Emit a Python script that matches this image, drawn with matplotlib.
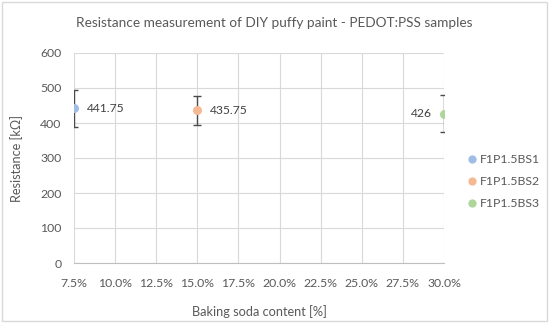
import matplotlib
matplotlib.use("Agg")
import matplotlib.pyplot as plt
from matplotlib.patches import Rectangle

series = ["F1P1.5BS1", "F1P1.5BS2", "F1P1.5BS3"]
soda = [7.5, 15.0, 30.0]
resistance = [441.75, 435.75, 426]
errors = [52, 41, 53]
labels = ["441.75", "435.75", "426"]
colors = ["#9FBDE6", "#F5B994", "#AED69A"]
xticks = [7.5, 10.0, 12.5, 15.0, 17.5, 20.0, 22.5, 25.0, 27.5, 30.0]
yticks = [0, 100, 200, 300, 400, 500, 600]

plt.rcParams['font.family'] = ['Lato', 'DejaVu Sans']
txt = "#595959"

fig = plt.figure(figsize=(5.5, 3.23), dpi=100)
ax = fig.add_axes([74/550, 1 - 263/323, (444-74)/550, (263-53)/323])

for i, (x, y, e, lab, c, s) in enumerate(zip(soda, resistance, errors, labels, colors, series)):
    ax.errorbar([x], [y], yerr=[e], fmt='none', ecolor="#4a4a4a", elinewidth=1.0,
                capsize=3, capthick=1.0, zorder=3)
    ax.plot([x], [y], 'o', color=c, markersize=5.5, zorder=4, label=s)
    if i < 2:
        ax.annotate(lab, (x, y), xytext=(9, 0), textcoords='offset points',
                    va='center', ha='left', fontsize=8.7, color="#404040")
    else:
        ax.annotate(lab, (x, y), xytext=(-9, 0), textcoords='offset points',
                    va='center', ha='right', fontsize=8.7, color="#404040")

ax.set_xlim(7.5, 30.0)
ax.set_ylim(0, 600)
ax.set_xticks(xticks)
ax.set_xticklabels([f"{v:.1f}%" for v in xticks])
ax.set_yticks(yticks)
ax.grid(True, color="#D9D9D9", linewidth=0.8)
ax.set_axisbelow(True)
for sp in ["top", "right", "left"]:
    ax.spines[sp].set_visible(False)
ax.spines["bottom"].set_color("#BFBFBF")
ax.tick_params(axis='x', length=0, labelsize=8.8, colors=txt, pad=11)
ax.tick_params(axis='y', length=0, labelsize=8.8, colors=txt, pad=9)
ax.set_xlabel("Baking soda content [%]", fontsize=9.2, color=txt, labelpad=11)
ax.set_ylabel("Resistance [kΩ]", fontsize=9.2, color=txt, labelpad=12)

fig.text(274.5/550, 1 - 23/323, "Resistance measurement of DIY puffy paint - PEDOT:PSS samples",
         ha='center', va='center', fontsize=9.8, color=txt)

leg = ax.legend(loc='center left', bbox_to_anchor=(455/550, 1 - 182/323),
                bbox_transform=fig.transFigure, frameon=False, fontsize=8.8,
                handletextpad=0.1, labelspacing=0.9, markerscale=0.9,
                handlelength=1.0)
for t in leg.get_texts():
    t.set_color(txt)

fig.patches.append(Rectangle((0.004, 0.006), 0.99, 0.988, transform=fig.transFigure,
                             fill=False, edgecolor="#D9D9D9", linewidth=1))

fig.savefig("out.png", dpi=100)
